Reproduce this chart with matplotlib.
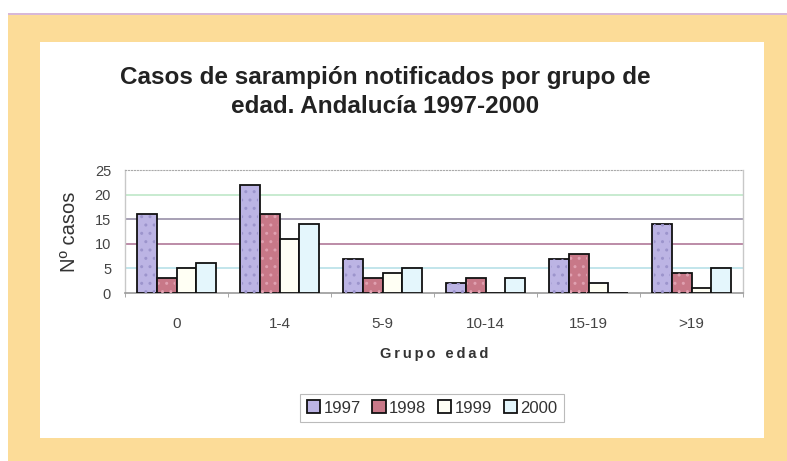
import matplotlib
matplotlib.use("Agg")
import matplotlib.pyplot as plt
from matplotlib.patches import Rectangle
import numpy as np

categories = ["0", "1-4", "5-9", "10-14", "15-19", ">19"]
years = ["1997", "1998", "1999", "2000"]
v1997 = [16, 22, 7, 2, 7, 14]
v1998 = [3, 16, 3, 3, 8, 4]
v1999 = [5, 11, 4, 0, 2, 1]
v2000 = [6, 14, 5, 3, 0, 5]
series = [v1997, v1998, v1999, v2000]

plt.rcParams['font.family'] = ['Liberation Sans', 'DejaVu Sans']

W, H = 787, 461
fig = plt.figure(figsize=(W / 100, H / 100), dpi=100)
fig.patch.set_facecolor("white")

# orange frame and white panel
fig.patches.append(Rectangle((8 / W, 0), 1 - 8 / W, 1 - 13 / H, transform=fig.transFigure,
                             facecolor="#fcdc98", edgecolor="none", zorder=-10))
fig.patches.append(Rectangle((8 / W, 1 - 15 / H), 1 - 8 / W, 2 / H, transform=fig.transFigure,
                             facecolor="#d8b8d8", edgecolor="none", zorder=-10))
fig.patches.append(Rectangle((40 / W, 1 - 438 / H), (764 - 40) / W, (438 - 42) / H,
                             transform=fig.transFigure, facecolor="white", edgecolor="none", zorder=-9))

ax = fig.add_axes([125 / W, 1 - 293 / H, (743 - 125) / W, (293 - 170) / H])
ax.set_zorder(5)
ax.set_facecolor("white")

x = np.arange(len(categories))
bw = 0.19
colors = ["#bcb4e4", "#c87888", "#fffff4", "#e4f6fc"]
hatch_cols = ["#9c94cc", "#e0a0b0", None, None]
for i, (vals, c, hc) in enumerate(zip(series, colors, hatch_cols)):
    pos = x + (i - 1.5) * bw
    ax.bar(pos, vals, width=bw, color=c, edgecolor="#111111", linewidth=1.3,
           label=years[i], zorder=3)
    if hc:
        ax.bar(pos, vals, width=bw - 0.03, color="none", edgecolor=hc, hatch="..",
               linewidth=0, zorder=4)

ax.set_xlim(-0.5, len(categories) - 0.5)
ax.set_ylim(0, 25)
ax.set_yticks([0, 5, 10, 15, 20, 25])
ax.set_xticks(x)
ax.set_xticklabels(categories)
ax.set_xticks(np.arange(len(categories) + 1) - 0.5, minor=True)
ax.tick_params(axis="x", which="major", length=0, pad=17, labelsize=11, labelcolor="#444444")
ax.tick_params(axis="x", which="minor", length=3, color="#999999")
ax.tick_params(axis="y", length=0, pad=10, labelsize=10.5, labelcolor="#444444")

grid_cols = {5: "#b8e0e8", 10: "#b07898", 15: "#9890a8", 20: "#bfe8c8"}
for yv, gc in grid_cols.items():
    ax.axhline(yv, color=gc, linewidth=1.2, zorder=1)

for s in ["left", "right"]:
    ax.spines[s].set_color("#c8c8c8")
    ax.spines[s].set_linewidth(1)
ax.spines["top"].set_color("#aaaaaa")
ax.spines["top"].set_linestyle(":")
ax.spines["bottom"].set_color("#999999")
ax.spines["bottom"].set_linewidth(1.2)

ax.set_ylabel("Nº casos", fontsize=14.5, color="#333333", labelpad=11)
ax.set_xlabel("\u2009".join("Grupo edad"), fontsize=10.5, fontweight="bold", color="#333333",
              labelpad=12)

fig.text(385 / W, 1 - 92 / H, "Casos de sarampión notificados por grupo de\nedad. Andalucía 1997-2000",
         ha="center", va="center", fontsize=17.5, fontweight="bold", color="#222222",
         linespacing=1.3)

leg = fig.legend(loc="center", bbox_to_anchor=(432 / W, 1 - 408 / H), ncol=4,
                 fontsize=12, frameon=True, fancybox=False, handlelength=0.8, handleheight=0.8,
                 handletextpad=0.2, columnspacing=0.7, borderpad=0.4)
leg.get_frame().set_edgecolor("#aaaaaa")
leg.get_frame().set_linewidth(0.8)
for t in leg.get_texts():
    t.set_color("#333333")

fig.savefig("out.png", dpi=100)
